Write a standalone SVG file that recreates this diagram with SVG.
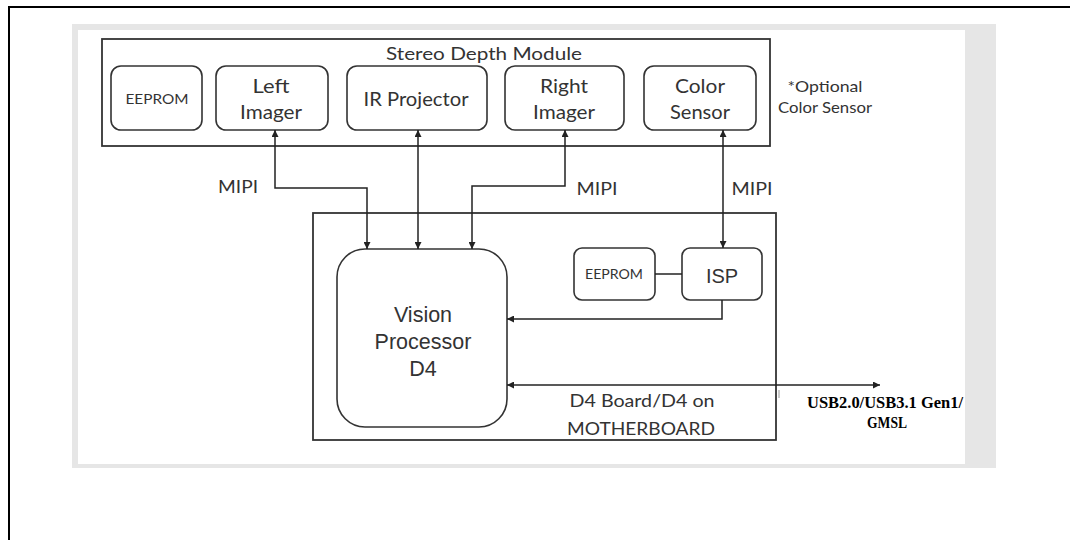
<svg xmlns="http://www.w3.org/2000/svg" width="1070" height="540" viewBox="0 0 1070 540">
<defs>
<marker id="ah" viewBox="0 0 10 10" refX="10" refY="5" markerWidth="7" markerHeight="7" markerUnits="userSpaceOnUse" orient="auto-start-reverse">
<path d="M0,0 L10,5 L0,10 z" fill="#222"/>
</marker>
<style>
.box{fill:#fff;stroke:#333;stroke-width:1.6}
.cal{font-family:Lato,"Liberation Sans",sans-serif;fill:#333;text-anchor:middle}
.ari{font-family:"Liberation Sans",Arial,sans-serif;fill:#333;text-anchor:middle}
.ln{fill:none;stroke:#222;stroke-width:1.5}
.usb{font-family:"Liberation Serif","DejaVu Serif",serif;font-weight:bold;font-size:16px;fill:#000;text-anchor:middle}
</style>
</defs>
<rect x="0" y="0" width="1070" height="540" fill="#fff"/>
<path d="M9,540 L9,7 L1070,7" fill="none" stroke="#000" stroke-width="2"/>
<rect x="72" y="24" width="924" height="444" fill="#e6e6e6"/>
<rect x="78" y="30" width="887" height="434" fill="#fff"/>

<g id="stereo-depth-module">
<rect x="102" y="39" width="668" height="107" fill="#fff" stroke="#333" stroke-width="1.8"/>
<text class="cal" x="484" y="60" font-size="18" textLength="196" lengthAdjust="spacingAndGlyphs">Stereo Depth Module</text>
</g>
<g id="eeprom-1"><rect class="box" x="111" y="66" width="91" height="64" rx="10"/><text class="cal" x="157" y="104" font-size="14" textLength="63" lengthAdjust="spacingAndGlyphs">EEPROM</text></g>
<g id="left-imager"><rect class="box" x="216" y="66" width="112" height="64" rx="10"/><text class="cal" x="271" y="93" font-size="19" textLength="37" lengthAdjust="spacingAndGlyphs">Left</text><text class="cal" x="271" y="119" font-size="19" textLength="62" lengthAdjust="spacingAndGlyphs">Imager</text></g>
<g id="ir-projector"><rect class="box" x="347" y="66" width="140" height="64" rx="10"/><text class="cal" x="416" y="106" font-size="19" textLength="105" lengthAdjust="spacingAndGlyphs">IR Projector</text></g>
<g id="right-imager"><rect class="box" x="505" y="66" width="119" height="64" rx="10"/><text class="cal" x="564" y="93" font-size="19" textLength="48" lengthAdjust="spacingAndGlyphs">Right</text><text class="cal" x="564" y="119" font-size="19" textLength="62" lengthAdjust="spacingAndGlyphs">Imager</text></g>
<g id="color-sensor"><rect class="box" x="644" y="66" width="112" height="64" rx="10"/><text class="cal" x="700" y="93" font-size="19" textLength="50" lengthAdjust="spacingAndGlyphs">Color</text><text class="cal" x="700" y="119" font-size="19" textLength="60" lengthAdjust="spacingAndGlyphs">Sensor</text></g>
<g id="optional-note"><text class="cal" x="825" y="92" font-size="15" textLength="75" lengthAdjust="spacingAndGlyphs">*Optional</text><text class="cal" x="825" y="113" font-size="15" textLength="94" lengthAdjust="spacingAndGlyphs">Color Sensor</text></g>

<g id="d4-board">
<rect x="313" y="213" width="463" height="227" fill="none" stroke="#333" stroke-width="1.8"/>
<text class="cal" x="642" y="407" font-size="18" textLength="145" lengthAdjust="spacingAndGlyphs">D4 Board/D4 on</text>
<text class="cal" x="641" y="435" font-size="18" textLength="148" lengthAdjust="spacingAndGlyphs">MOTHERBOARD</text>
</g>
<g id="vision-processor"><rect class="box" x="337" y="249" width="170" height="178" rx="28"/><text class="ari" x="423" y="322" font-size="21.5">Vision</text><text class="ari" x="423" y="349" font-size="21.5">Processor</text><text class="ari" x="423" y="376" font-size="21.5">D4</text></g>
<g id="eeprom-2"><rect class="box" x="574" y="248" width="81" height="52" rx="8"/><text class="cal" x="614" y="279" font-size="13" textLength="58" lengthAdjust="spacingAndGlyphs">EEPROM</text></g>
<g id="isp"><rect class="box" x="682" y="248" width="80" height="52" rx="8"/><text class="ari" x="722" y="283" font-size="20">ISP</text></g>

<g id="connectors">
<path class="ln" d="M275,130 L275,188 L367,188 L367,249" marker-start="url(#ah)" marker-end="url(#ah)"/>
<path class="ln" d="M418,130 L418,249" marker-start="url(#ah)" marker-end="url(#ah)"/>
<path class="ln" d="M565,130 L565,186 L472,186 L472,249" marker-start="url(#ah)" marker-end="url(#ah)"/>
<path class="ln" d="M723,130 L723,248" marker-start="url(#ah)" marker-end="url(#ah)"/>
<path class="ln" d="M655,274 L682,274"/>
<path class="ln" d="M722,300 L722,319 L507,319" marker-end="url(#ah)"/>
<path class="ln" d="M507,385 L880,385" marker-start="url(#ah)" marker-end="url(#ah)"/>
<path d="M779,390 L779,398" stroke="#999" stroke-width="1"/>
<text class="cal" x="238" y="193" font-size="17" textLength="40" lengthAdjust="spacingAndGlyphs">MIPI</text>
<text class="cal" x="597" y="195" font-size="17" textLength="41" lengthAdjust="spacingAndGlyphs">MIPI</text>
<text class="cal" x="752" y="195" font-size="17" textLength="41" lengthAdjust="spacingAndGlyphs">MIPI</text>
<text class="usb" x="885" y="408" textLength="156" lengthAdjust="spacingAndGlyphs">USB2.0/USB3.1 Gen1/</text>
<text class="usb" x="887" y="428" textLength="40" lengthAdjust="spacingAndGlyphs">GMSL</text>
</g>
</svg>
